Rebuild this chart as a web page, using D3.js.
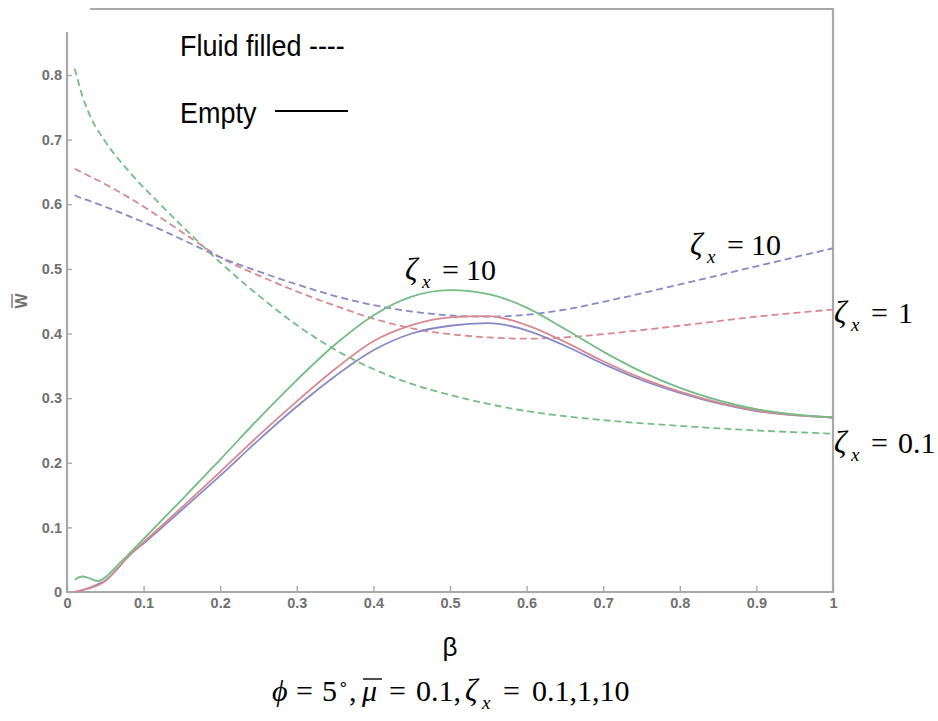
<!DOCTYPE html>
<html>
<head>
<meta charset="utf-8">
<script src="https://cdn.jsdelivr.net/npm/d3@7"></script>
<style>
  html, body { margin: 0; padding: 0; background: #fff; }
  svg { display: block; }
</style>
</head>
<body>
<svg id="chart" width="938" height="721"></svg>
<script>
// Dimensionless deflection W̄ against β for three stiffness ratios ζx,
// fluid-filled (dashed) and empty (solid) shells.
const betaFluid = [0.01, 0.02, 0.03, 0.05, 0.08, 0.12, 0.16, 0.2, 0.25, 0.3, 0.35, 0.4, 0.45, 0.5, 0.55, 0.6, 0.65, 0.7, 0.8, 0.9, 1.0];
const fluidZeta01 = [0.81, 0.768, 0.737, 0.697, 0.652, 0.602, 0.555, 0.51, 0.459, 0.413, 0.375, 0.345, 0.322, 0.305, 0.291, 0.28, 0.272, 0.266, 0.257, 0.25, 0.245];
const fluidZeta1  = [0.655, 0.649, 0.643, 0.631, 0.611, 0.581, 0.549, 0.518, 0.49, 0.465, 0.443, 0.423, 0.408, 0.399, 0.394, 0.392, 0.394, 0.399, 0.412, 0.426, 0.437];
const fluidZeta10 = [0.614, 0.609, 0.605, 0.596, 0.582, 0.562, 0.54, 0.518, 0.496, 0.476, 0.458, 0.444, 0.434, 0.428, 0.426, 0.429, 0.437, 0.449, 0.476, 0.504, 0.532];

const betaEmpty = [0.01, 0.02, 0.03, 0.04, 0.05, 0.065, 0.08, 0.1, 0.15, 0.2, 0.25, 0.3, 0.35, 0.4, 0.45, 0.5, 0.55, 0.6, 0.65, 0.7, 0.75, 0.8, 0.9, 1.0];
const emptyZeta10 = [0.019, 0.024, 0.021, 0.017, 0.023, 0.04, 0.058, 0.082, 0.143, 0.205, 0.268, 0.328, 0.383, 0.428, 0.457, 0.467, 0.461, 0.44, 0.407, 0.372, 0.341, 0.316, 0.283, 0.27];
const emptyZeta1  = [0.0, 0.003, 0.006, 0.01, 0.017, 0.035, 0.055, 0.077, 0.131, 0.186, 0.242, 0.295, 0.345, 0.388, 0.413, 0.425, 0.427, 0.413, 0.387, 0.357, 0.331, 0.31, 0.281, 0.27];
const emptyZeta01 = [0.0, 0.003, 0.007, 0.012, 0.018, 0.035, 0.055, 0.075, 0.127, 0.18, 0.235, 0.287, 0.334, 0.374, 0.4, 0.412, 0.416, 0.405, 0.381, 0.353, 0.328, 0.308, 0.28, 0.27];

const xTicks = [0, 0.1, 0.2, 0.3, 0.4, 0.5, 0.6, 0.7, 0.8, 0.9, 1];
const xTickLabels = ["0", "0.1", "0.2", "0.3", "0.4", "0.5", "0.6", "0.7", "0.8", "0.9", "1"];
const yTicks = [0, 0.1, 0.2, 0.3, 0.4, 0.5, 0.6, 0.7, 0.8];
const yTickLabels = ["0", "0.1", "0.2", "0.3", "0.4", "0.5", "0.6", "0.7", "0.8"];

const COLORS = { green: "#74bd85", red: "#d98891", blue: "#8888c8" };

const svg = d3.select("#chart");
const x = d3.scaleLinear().domain([0, 1]).range([67, 833]);
const y = d3.scaleLinear().domain([0, 0.8]).range([592, 75]);
const AXIS = "#a8a8a8";

// frame
svg.append("line").attr("x1", 67).attr("x2", 67).attr("y1", 32).attr("y2", 593)
  .attr("stroke", AXIS).attr("stroke-width", 2.2);
svg.append("line").attr("x1", 90).attr("x2", 834).attr("y1", 9).attr("y2", 9)
  .attr("stroke", AXIS).attr("stroke-width", 2.2);
svg.append("line").attr("x1", 833).attr("x2", 833).attr("y1", 9).attr("y2", 593)
  .attr("stroke", AXIS).attr("stroke-width", 2.2);
svg.append("line").attr("x1", 66).attr("x2", 834).attr("y1", 592).attr("y2", 592)
  .attr("stroke", AXIS).attr("stroke-width", 2.2);

// axes
const xAxis = d3.axisBottom(x).tickValues(xTicks)
  .tickFormat((d, i) => xTickLabels[i]).tickSizeInner(-6).tickSizeOuter(0).tickPadding(6);
const yAxis = d3.axisLeft(y).tickValues(yTicks)
  .tickFormat((d, i) => yTickLabels[i]).tickSizeInner(-5).tickSizeOuter(0).tickPadding(5);

function styleAxis(g) {
  g.select(".domain").remove();
  g.selectAll(".tick line").attr("stroke", AXIS).attr("stroke-width", 1.4);
  g.selectAll(".tick text").attr("fill", "#707070").attr("font-weight", "bold")
    .attr("font-family", "Liberation Sans, Arial, sans-serif").attr("font-size", 14.5);
}
svg.append("g").attr("transform", "translate(0,592)").call(xAxis).call(styleAxis);
svg.append("g").attr("transform", "translate(67,0)").call(yAxis).call(styleAxis);

// curves
const line = d3.line().x(d => x(d[0])).y(d => y(d[1])).curve(d3.curveMonotoneX);
const series = [
  { xs: betaFluid, ys: fluidZeta01, color: COLORS.green, dashed: true },
  { xs: betaFluid, ys: fluidZeta1, color: COLORS.red, dashed: true },
  { xs: betaFluid, ys: fluidZeta10, color: COLORS.blue, dashed: true },
  { xs: betaEmpty, ys: emptyZeta01, color: COLORS.blue, dashed: false },
  { xs: betaEmpty, ys: emptyZeta1, color: COLORS.red, dashed: false },
  { xs: betaEmpty, ys: emptyZeta10, color: COLORS.green, dashed: false }
];
svg.append("g").selectAll("path").data(series).join("path")
  .attr("d", s => line(s.xs.map((b, i) => [b, s.ys[i]])))
  .attr("fill", "none")
  .attr("stroke", s => s.color)
  .attr("stroke-width", 1.8)
  .attr("stroke-dasharray", s => s.dashed ? "7,4" : null);

// legend
const sans = "Liberation Sans, Arial, sans-serif";
svg.append("text").attr("transform", "translate(180,56) scale(0.93,1)").attr("font-family", sans)
  .attr("font-size", 29).attr("fill", "#000").text("Fluid filled ----");
svg.append("text").attr("transform", "translate(180,123) scale(0.93,1)").attr("font-family", sans)
  .attr("font-size", 29).attr("fill", "#000").text("Empty");
svg.append("line").attr("x1", 275).attr("x2", 348).attr("y1", 111).attr("y2", 111)
  .attr("stroke", "#000").attr("stroke-width", 2);

// ζx annotations
const serif = "Liberation Serif, Times New Roman, serif";
function zetaLabel(px, py, value, gap) {
  const g = svg.append("g").attr("transform", `translate(${px},${py})`)
    .attr("font-family", serif).attr("fill", "#000");
  g.append("text").attr("font-style", "italic").attr("font-size", 31).text("ζ");
  g.append("text").attr("x", 17).attr("y", 8).attr("font-style", "italic").attr("font-size", 19).text("x");
  g.append("text").attr("x", 37).attr("font-size", 30).text("=");
  g.append("text").attr("x", gap).attr("font-size", 30).text(value);
}
zetaLabel(405, 280, "10", 61);
zetaLabel(690, 255, "10", 61);
zetaLabel(834, 323, "1", 64);
zetaLabel(834, 453, "0.1", 64);

// axis titles
const yl = svg.append("g").attr("transform", "translate(27,301) rotate(-90)");
yl.append("text").attr("text-anchor", "middle").attr("font-family", sans)
  .attr("font-weight", "bold").attr("font-size", 16).attr("fill", "#707070").text("W");
yl.append("line").attr("x1", -7).attr("x2", 7).attr("y1", -15).attr("y2", -15)
  .attr("stroke", "#707070").attr("stroke-width", 1.4);

svg.append("text").attr("x", 450).attr("y", 656).attr("text-anchor", "middle")
  .attr("font-family", sans).attr("font-size", 26).attr("fill", "#000").text("β");

// parameter line: ϕ = 5°, μ̄ = 0.1, ζx = 0.1,1,10
const S = 272, BASE = 701;
const sub = svg.append("g").attr("transform", `translate(${S},${BASE})`)
  .attr("font-family", serif).attr("font-size", 30).attr("fill", "#000");
const pieces = [
  { dx: 0, t: "ϕ", it: true },
  { dx: 24, t: "=" },
  { dx: 50, t: "5" },
  { dx: 66, t: "∘", size: 17, dy: -12 },
  { dx: 77, t: "," },
  { dx: 90, t: "μ", it: true },
  { dx: 117, t: "=" },
  { dx: 144, t: "0.1," },
  { dx: 193, t: "ζ", it: true, size: 31 },
  { dx: 210, t: "x", it: true, size: 19, dy: 8 },
  { dx: 231, t: "=" },
  { dx: 260, t: "0.1,1,10" }
];
sub.selectAll("text").data(pieces).join("text")
  .attr("x", d => d.dx).attr("y", d => d.dy || 0)
  .attr("font-style", d => d.it ? "italic" : null)
  .attr("font-size", d => d.size || null)
  .text(d => d.t);
sub.append("line").attr("x1", 91).attr("x2", 110).attr("y1", -22).attr("y2", -22)
  .attr("stroke", "#000").attr("stroke-width", 1.4);
</script>
</body>
</html>
